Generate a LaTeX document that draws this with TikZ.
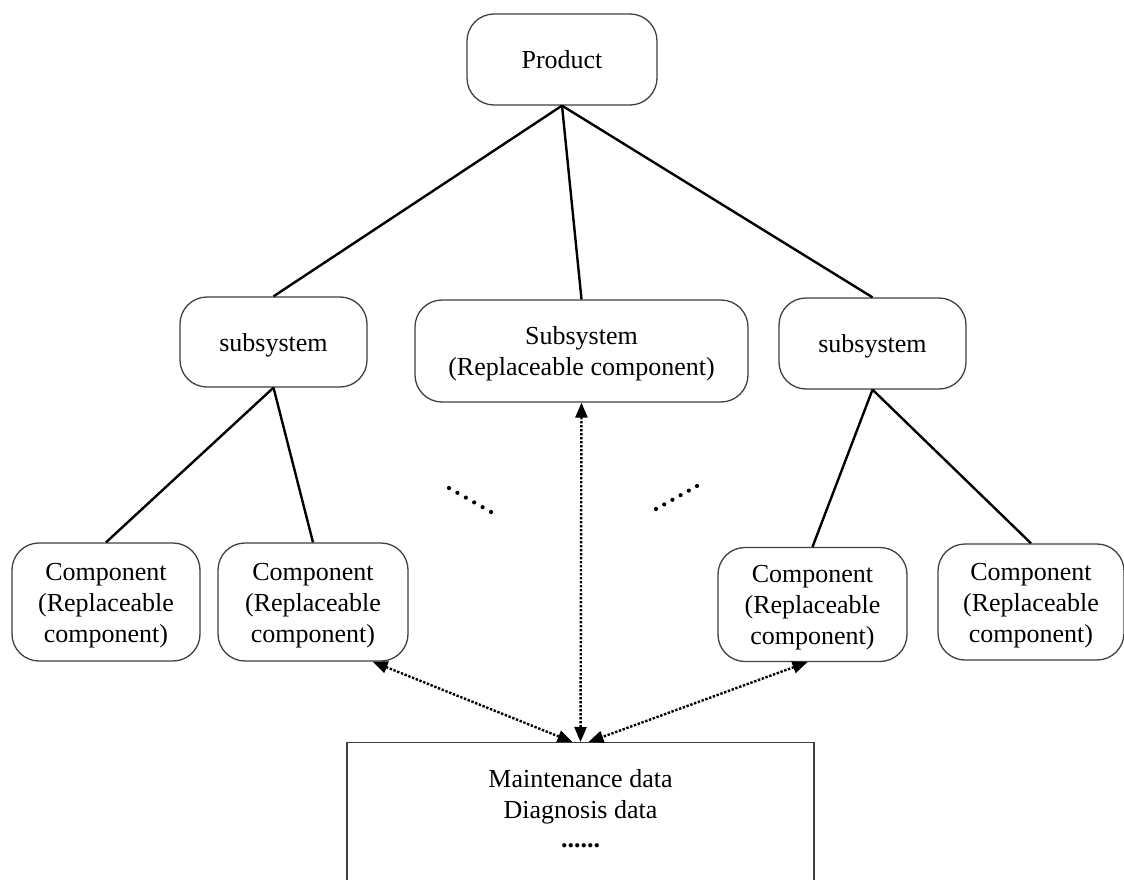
\documentclass[tikz,border=0pt]{standalone}
\usepackage{fontspec}
\setmainfont{Liberation Serif}
\usetikzlibrary{arrows.meta}
% lower the ink of a box label a little while keeping its measured size
\newcommand\boxlabel[1]{\raisebox{-3pt}[\height][\depth]{\begin{tabular}{@{}c@{}}#1\end{tabular}}}
\begin{document}
\begin{tikzpicture}[x=1pt,y=-1pt,
  box/.style={draw=black!75,line width=1.3pt,rounded corners=27pt,align=center,
    inner sep=0pt,font=\fontsize{26}{31}\selectfont},
  tree/.style={line width=2.4pt,black},
  link/.style={line width=2.4pt,black,dash pattern=on 2.4pt off 1.6pt,
    {Triangle[length=15pt,width=12pt]}-{Triangle[length=15pt,width=12pt]}},
  dot/.style={circle,fill=black,inner sep=0pt,minimum size=4.2pt}]
\useasboundingbox (0,0) rectangle (1124,880);
\clip (0,0) rectangle (1124,880);
\fill[white] (0,0) rectangle (1124,880);

% top level
\node[box,minimum width=190pt,minimum height=91pt] (prod) at (562,59.5) {Product};

% subsystems
\node[box,minimum width=187pt,minimum height=90pt] (ssa) at (273.5,342) {\boxlabel{subsystem}};
\node[box,minimum width=333pt,minimum height=102pt] (ssb) at (581.5,351) {\boxlabel{Subsystem\\(Replaceable component)}};
\node[box,minimum width=187pt,minimum height=91pt] (ssc) at (872.5,343.5) {\boxlabel{subsystem}};

% components
\node[box,minimum width=188pt,minimum height=118pt] (ca) at (106,602) {\boxlabel{Component\\(Replaceable\\component)}};
\node[box,minimum width=190pt,minimum height=118pt] (cb) at (313,602) {\boxlabel{Component\\(Replaceable\\component)}};
\node[box,minimum width=189pt,minimum height=114pt] (cc) at (812.5,604.5) {\boxlabel{Component\\(Replaceable\\component)}};
\node[box,minimum width=186pt,minimum height=116pt] (cd) at (1031,602) {\boxlabel{Component\\(Replaceable\\component)}};

% data store
\node[draw=black!75,line width=1.3pt,minimum width=467pt,minimum height=200pt,anchor=north,
  inner sep=0pt] (data) at (580.5,742) {};
\node[font=\fontsize{26}{31}\selectfont,align=center,anchor=north] (datatext) at (580.5,766)
  {Maintenance data\\Diagnosis data\\[-2pt]\textbf{......}};

% hierarchy
\draw[tree] (prod.south) -- (ssa.north);
\draw[tree] (prod.south) -- (ssb.north);
\draw[tree] (prod.south) -- (ssc.north);
\draw[tree] (ssa.south) -- (ca.north);
\draw[tree] (ssa.south) -- (cb.north);
\draw[tree] (ssc.south) -- (cc.north);
\draw[tree] (ssc.south) -- (cd.north);

% data links
\coordinate (dl) at ([xshift=-8pt]data.north);
\coordinate (dr) at ([xshift=8pt]data.north);
\coordinate (cbout) at ([xshift=-36pt]cb.south east);
\coordinate (ccout) at ([xshift=-5pt]cc.south);
\draw[link] (ssb.south) -- (data.north);
\draw[link] (cbout) -- (dl);
\draw[link] (ccout) -- (dr);

% omitted branches
\foreach \i in {0,...,5}{
  \node[dot] (la\i) at ({449+\i*8.4},{488+\i*4.8}) {};
  \node[dot] (ra\i) at ({656+\i*8.2},{509-\i*4.6}) {};
}
\end{tikzpicture}
\end{document}
